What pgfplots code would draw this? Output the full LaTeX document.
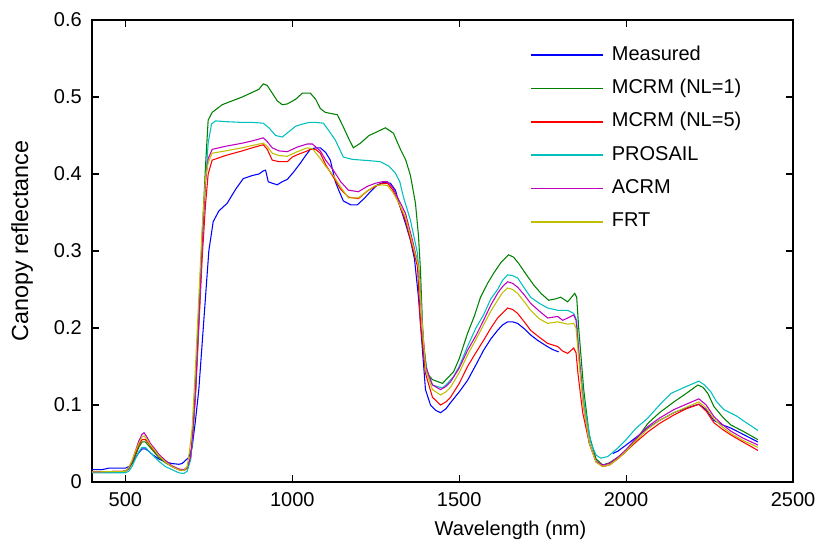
\documentclass[border=0pt]{standalone}
\usepackage{pgfplots}
\pgfplotsset{compat=1.18}
\usepackage{fontspec}
\setmainfont{Liberation Sans}
\definecolor{mblue}{rgb}{0,0,1}
\definecolor{mgreen}{rgb}{0,0.5,0}
\definecolor{mred}{rgb}{1,0,0}
\definecolor{mcyan}{rgb}{0,0.75,0.75}
\definecolor{mmag}{rgb}{0.75,0,0.75}
\definecolor{myel}{rgb}{0.75,0.75,0}
\begin{document}
\fontsize{15}{18}\selectfont
\begin{tikzpicture}
\begin{axis}[
  name=ax,
  scale only axis,
  width=525.75pt, height=346.5pt,
  xmin=400, xmax=2500, ymin=0, ymax=0.6,
  xtick={500,1000,1500,2000,2500},
  ytick={0,0.1,0.2,0.3,0.4,0.5,0.6},
  tick align=inside,
  xtick pos=both, ytick pos=both,
  major tick length=5pt,
  axis line style={line width=0.8pt},
  tick style={line width=0.8pt, black},
  /pgf/number format/assume math mode=true,
  /pgf/number format/1000 sep={},
  yticklabel style={/pgf/number format/fixed, /pgf/number format/precision=1, xshift=-2.5pt},
  xticklabel style={yshift=-3pt},
  xlabel={Wavelength (nm)},
  ylabel={Canopy reflectance},
  xlabel style={xshift=51pt},
  ylabel style={at={(axis description cs:-0.0999,0.5216)}, anchor=center, font=\fontsize{17.5}{20}\selectfont},
  unbounded coords=jump,
  every axis plot/.append style={line width=0.8pt},
  legend cell align=left,
  legend style={draw=none, fill=none, at={(0.625,0.944)}, anchor=north west,
    inner sep=0pt, row sep=11.5pt, column sep=6pt,
    nodes={inner sep=0pt, text height=10.5pt, text depth=3pt}},
  legend image code/.code={\draw[#1, line width=1.1pt] (0pt,0pt) -- (54pt,0pt);},
]
\addplot[mblue] coordinates {(400,0.016)(430,0.016)(450,0.018)(480,0.018)(500,0.018)(510,0.02)(520,0.024)(530,0.031)(540,0.038)(550,0.043)(560,0.043)(570,0.04)(580,0.036)(600,0.03)(620,0.026)(640,0.024)(660,0.023)(670,0.024)(680,0.028)(690,0.032)(700,0.045)(710,0.08)(720,0.12)(730,0.18)(740,0.24)(750,0.3)(763,0.338)(780,0.352)(805,0.362)(830,0.38)(853,0.394)(880,0.398)(900,0.4)(913,0.404)(920,0.405)(928,0.39)(940,0.388)(955,0.386)(970,0.39)(985,0.393)(1003,0.402)(1024,0.414)(1040,0.424)(1054,0.432)(1070,0.434)(1084,0.434)(1100,0.428)(1114,0.418)(1129,0.39)(1140,0.378)(1153,0.365)(1175,0.36)(1195,0.36)(1215,0.368)(1234,0.377)(1255,0.386)(1273,0.389)(1294,0.388)(1309,0.379)(1324,0.356)(1339,0.336)(1354,0.314)(1366,0.29)(1378,0.24)(1390,0.171)(1399,0.12)(1414,0.1)(1430,0.093)(1444,0.09)(1460,0.095)(1474,0.103)(1500,0.117)(1525,0.132)(1550,0.152)(1573,0.171)(1595,0.186)(1615,0.197)(1630,0.204)(1645,0.208)(1660,0.208)(1675,0.206)(1695,0.199)(1714,0.191)(1735,0.184)(1760,0.177)(1780,0.172)(1798,0.169)(1820,nan)(1960,0.037)(1975,0.04)(2000,0.048)(2030,0.058)(2065,0.07)(2100,0.08)(2143,0.09)(2180,0.096)(2218,0.101)(2240,0.094)(2263,0.08)(2290,0.074)(2314,0.07)(2350,0.062)(2395,0.052)};
\addlegendentry{Measured}
\addplot[mgreen] coordinates {(400,0.013)(480,0.013)(500,0.014)(510,0.017)(520,0.024)(530,0.034)(540,0.045)(550,0.052)(560,0.052)(570,0.047)(580,0.042)(600,0.032)(620,0.025)(640,0.02)(660,0.016)(675,0.015)(685,0.018)(695,0.03)(700,0.05)(710,0.12)(720,0.22)(730,0.32)(740,0.41)(748,0.47)(760,0.48)(790,0.49)(814,0.494)(850,0.5)(880,0.506)(900,0.51)(913,0.517)(925,0.515)(940,0.505)(955,0.495)(970,0.49)(985,0.491)(1010,0.497)(1030,0.505)(1054,0.505)(1070,0.497)(1084,0.485)(1099,0.48)(1135,0.477)(1153,0.461)(1170,0.445)(1183,0.434)(1204,0.44)(1230,0.45)(1255,0.455)(1279,0.46)(1303,0.453)(1324,0.432)(1340,0.418)(1354,0.398)(1369,0.362)(1378,0.32)(1384,0.275)(1393,0.17)(1405,0.14)(1420,0.133)(1450,0.128)(1465,0.135)(1483,0.143)(1500,0.16)(1525,0.193)(1545,0.215)(1564,0.24)(1585,0.258)(1603,0.271)(1625,0.285)(1648,0.295)(1663,0.292)(1678,0.284)(1700,0.27)(1723,0.256)(1745,0.245)(1768,0.236)(1790,0.238)(1804,0.24)(1825,0.234)(1846,0.245)(1852,0.24)(1858,0.2)(1873,0.12)(1890,0.06)(1910,0.03)(1930,0.022)(1950,0.025)(1975,0.032)(1993,0.037)(2030,0.055)(2065,0.076)(2100,0.09)(2143,0.104)(2180,0.115)(2215,0.126)(2230,0.123)(2245,0.115)(2263,0.098)(2290,0.084)(2314,0.074)(2350,0.066)(2395,0.055)};
\addlegendentry{MCRM (NL=1)}
\addplot[mred] coordinates {(400,0.013)(500,0.014)(510,0.018)(520,0.026)(530,0.037)(540,0.048)(550,0.055)(560,0.055)(570,0.05)(580,0.044)(600,0.034)(620,0.026)(640,0.02)(660,0.016)(675,0.015)(685,0.018)(695,0.03)(700,0.05)(710,0.11)(720,0.2)(730,0.29)(740,0.36)(748,0.4)(760,0.418)(800,0.424)(850,0.43)(880,0.434)(913,0.438)(925,0.432)(940,0.418)(960,0.416)(985,0.416)(1000,0.422)(1015,0.425)(1045,0.43)(1054,0.432)(1070,0.432)(1084,0.427)(1100,0.412)(1123,0.396)(1145,0.38)(1168,0.37)(1198,0.368)(1225,0.378)(1249,0.384)(1270,0.388)(1285,0.388)(1300,0.38)(1315,0.366)(1339,0.34)(1360,0.305)(1375,0.28)(1384,0.206)(1399,0.141)(1420,0.11)(1444,0.1)(1460,0.104)(1474,0.11)(1500,0.128)(1525,0.15)(1550,0.168)(1573,0.184)(1595,0.2)(1615,0.213)(1645,0.226)(1660,0.224)(1675,0.219)(1695,0.208)(1714,0.197)(1740,0.188)(1765,0.18)(1795,0.176)(1810,0.17)(1825,0.167)(1843,0.174)(1850,0.168)(1856,0.14)(1870,0.09)(1890,0.05)(1910,0.026)(1930,0.02)(1950,0.022)(1975,0.03)(2000,0.04)(2030,0.052)(2065,0.065)(2100,0.076)(2143,0.087)(2180,0.095)(2218,0.101)(2240,0.092)(2263,0.077)(2290,0.068)(2314,0.061)(2350,0.052)(2395,0.041)};
\addlegendentry{MCRM (NL=5)}
\addplot[mcyan] coordinates {(400,0.012)(500,0.012)(510,0.014)(520,0.02)(530,0.03)(540,0.039)(550,0.045)(560,0.045)(570,0.04)(580,0.036)(600,0.027)(620,0.02)(640,0.016)(660,0.012)(675,0.011)(685,0.014)(695,0.028)(700,0.05)(710,0.12)(720,0.21)(730,0.31)(740,0.39)(748,0.44)(758,0.465)(770,0.469)(800,0.468)(850,0.467)(880,0.467)(913,0.466)(930,0.46)(950,0.45)(970,0.448)(990,0.455)(1010,0.462)(1024,0.464)(1050,0.467)(1070,0.467)(1093,0.466)(1110,0.456)(1129,0.444)(1153,0.422)(1180,0.419)(1210,0.418)(1240,0.417)(1264,0.416)(1290,0.41)(1309,0.401)(1322,0.39)(1333,0.37)(1354,0.34)(1375,0.297)(1385,0.24)(1393,0.18)(1405,0.14)(1420,0.126)(1450,0.122)(1465,0.128)(1483,0.137)(1500,0.15)(1525,0.176)(1550,0.2)(1573,0.217)(1595,0.238)(1615,0.25)(1630,0.262)(1645,0.269)(1660,0.268)(1675,0.265)(1695,0.252)(1714,0.24)(1740,0.232)(1765,0.226)(1795,0.223)(1825,0.223)(1843,0.219)(1852,0.21)(1860,0.16)(1875,0.1)(1895,0.05)(1910,0.035)(1924,0.031)(1945,0.033)(1975,0.044)(2000,0.055)(2030,0.07)(2065,0.083)(2100,0.1)(2134,0.115)(2180,0.124)(2218,0.131)(2235,0.126)(2254,0.117)(2270,0.105)(2293,0.094)(2330,0.086)(2360,0.077)(2395,0.067)};
\addlegendentry{PROSAIL}
\addplot[mmag] coordinates {(400,0.013)(500,0.014)(510,0.018)(520,0.027)(530,0.04)(540,0.053)(550,0.062)(556,0.064)(565,0.058)(575,0.05)(590,0.042)(600,0.036)(620,0.028)(640,0.021)(660,0.017)(675,0.016)(685,0.019)(695,0.032)(700,0.055)(710,0.12)(720,0.21)(730,0.31)(740,0.39)(748,0.42)(760,0.432)(800,0.436)(850,0.44)(880,0.443)(913,0.447)(925,0.442)(940,0.434)(960,0.43)(985,0.429)(1015,0.435)(1045,0.439)(1060,0.439)(1084,0.43)(1100,0.418)(1123,0.405)(1145,0.39)(1168,0.379)(1198,0.377)(1225,0.384)(1249,0.388)(1270,0.39)(1285,0.39)(1300,0.383)(1315,0.37)(1339,0.349)(1360,0.314)(1378,0.28)(1390,0.2)(1400,0.15)(1420,0.126)(1444,0.12)(1460,0.124)(1474,0.13)(1500,0.148)(1525,0.171)(1550,0.19)(1573,0.21)(1595,0.23)(1615,0.245)(1630,0.254)(1645,0.26)(1660,0.258)(1675,0.253)(1695,0.243)(1714,0.232)(1740,0.222)(1765,0.213)(1795,0.215)(1810,0.21)(1825,0.213)(1843,0.217)(1850,0.21)(1858,0.17)(1872,0.1)(1890,0.05)(1910,0.027)(1930,0.022)(1950,0.024)(1975,0.032)(2000,0.042)(2030,0.057)(2065,0.072)(2100,0.083)(2143,0.094)(2180,0.101)(2218,0.108)(2240,0.1)(2263,0.085)(2290,0.074)(2314,0.066)(2350,0.057)(2395,0.048)};
\addlegendentry{ACRM}
\addplot[myel] coordinates {(400,0.013)(500,0.014)(510,0.019)(520,0.028)(530,0.04)(540,0.05)(550,0.058)(556,0.06)(565,0.055)(575,0.048)(590,0.04)(600,0.034)(620,0.026)(640,0.02)(660,0.016)(675,0.015)(685,0.02)(692,0.04)(700,0.07)(710,0.15)(720,0.24)(730,0.33)(740,0.395)(748,0.415)(760,0.427)(800,0.43)(850,0.434)(880,0.437)(913,0.44)(925,0.436)(940,0.427)(960,0.424)(985,0.423)(1015,0.429)(1045,0.434)(1060,0.433)(1084,0.42)(1100,0.41)(1123,0.398)(1145,0.383)(1168,0.369)(1198,0.369)(1225,0.378)(1249,0.385)(1270,0.386)(1285,0.385)(1300,0.377)(1315,0.366)(1339,0.344)(1360,0.31)(1378,0.28)(1390,0.2)(1400,0.145)(1420,0.12)(1444,0.113)(1460,0.117)(1474,0.123)(1500,0.142)(1525,0.165)(1550,0.185)(1573,0.204)(1595,0.222)(1615,0.236)(1630,0.246)(1645,0.252)(1660,0.25)(1675,0.245)(1695,0.234)(1714,0.223)(1740,0.212)(1765,0.206)(1795,0.208)(1825,0.205)(1843,0.206)(1850,0.2)(1858,0.16)(1872,0.1)(1890,0.05)(1910,0.026)(1930,0.02)(1950,0.022)(1975,0.03)(2000,0.04)(2030,0.054)(2065,0.069)(2100,0.08)(2143,0.09)(2180,0.097)(2218,0.104)(2240,0.096)(2263,0.082)(2290,0.071)(2314,0.063)(2350,0.054)(2395,0.045)};
\addlegendentry{FRT}
\end{axis}
\pgfresetboundingbox
\path ([shift={(-69pt,-48.75pt)}]ax.south west) rectangle ([shift={(20.25pt,15pt)}]ax.north east);
\end{tikzpicture}
\end{document}
